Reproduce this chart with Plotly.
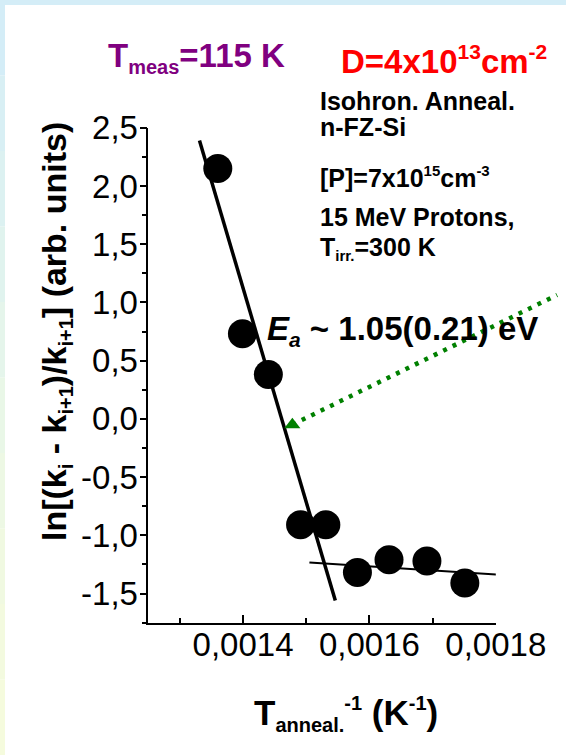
import plotly.graph_objects as go

# ---------------- data ----------------
x_data = [0.001360, 0.001399, 0.001440, 0.001491, 0.001531, 0.001581, 0.001631, 0.001691, 0.001751]
y_data = [2.15, 0.73, 0.38, -0.91, -0.91, -1.32, -1.21, -1.22, -1.41]

fit_steep_x = [0.001331, 0.001546]
fit_steep_y = [2.39, -1.56]
fit_flat_x = [0.001505, 0.00181]
fit_flat_y = [-1.234, -1.340]

arrow_tip = (0.001478, -0.05)
arrow_tail = (0.001897, 1.064)

x_tickvals = [0.0014, 0.0016, 0.0018]
x_ticktext = ["0,0014", "0,0016", "0,0018"]
y_tickvals = [-1.5, -1.0, -0.5, 0.0, 0.5, 1.0, 1.5, 2.0, 2.5]
y_ticktext = ["-1,5", "-1,0", "-0,5", "0,0", "0,5", "1,0", "1,5", "2,0", "2,5"]

X_RANGE = [0.00125, 0.0018]
Y_RANGE = [-1.75, 2.5]

# ---------------- layout geometry ----------------
W, H = 566, 755
X_DOM = [148.3 / W, 495.8 / W]
Y_DOM = [1 - 622.7 / H, 1 - 127.7 / H]
FONT = "Liberation Sans, Arial, sans-serif"


def d2p(x, y):
    px = X_DOM[0] + (x - X_RANGE[0]) / (X_RANGE[1] - X_RANGE[0]) * (X_DOM[1] - X_DOM[0])
    py = Y_DOM[0] + (y - Y_RANGE[0]) / (Y_RANGE[1] - Y_RANGE[0]) * (Y_DOM[1] - Y_DOM[0])
    return px, py


def sub(t, s):
    return f'<sub><span style="font-size:{s}px">{t}</span></sub>'


def sup(t, s):
    return f'<sup><span style="font-size:{s}px">{t}</span></sup>'


fig = go.Figure()

fig.add_trace(go.Scatter(x=fit_steep_x, y=fit_steep_y, mode="lines",
                         line=dict(color="black", width=3.5), hoverinfo="skip"))
fig.add_trace(go.Scatter(x=fit_flat_x, y=fit_flat_y, mode="lines",
                         line=dict(color="black", width=2), hoverinfo="skip"))
fig.add_trace(go.Scatter(x=x_data, y=y_data, mode="markers",
                         marker=dict(color="black", size=29), cliponaxis=False))
fig.add_trace(go.Scatter(x=[arrow_tip[0]], y=[arrow_tip[1]], mode="markers",
                         marker=dict(color="#008000", size=14, symbol="triangle-up"),
                         cliponaxis=False))

shapes = []
# frame decoration
shapes.append(dict(type="rect", xref="paper", yref="paper", x0=0, x1=1, y0=1 - 5 / H, y1=1,
                   fillcolor="#d4edf7", line=dict(width=0), layer="below"))
band_cols = ["#d4edf7", "#d8eff4", "#dcf1f1", "#e0f3ee", "#e5f5eb", "#e9f7e7",
             "#edf8e4", "#f0f9e1", "#f3fadf", "#f5fbdd"]
nb = len(band_cols)
for i, c in enumerate(band_cols):
    shapes.append(dict(type="rect", xref="paper", yref="paper", x0=0, x1=5 / W,
                       y0=1 - (i + 1) / nb, y1=1 - i / nb,
                       fillcolor=c, line=dict(width=0), layer="below"))
# green dotted arrow
p0 = d2p(*arrow_tip)
p1 = d2p(*arrow_tail)
shapes.append(dict(type="line", xref="paper", yref="paper", x0=p0[0], y0=p0[1], x1=p1[0], y1=p1[1],
                   line=dict(color="#008000", width=4.5, dash="4px,6.5px"), layer="above"))


def ann(text, xpx, ypx, size, color="black", xanchor="left", yanchor="middle", angle=0):
    return dict(text=text, x=xpx / W, y=1 - ypx / H, xref="paper", yref="paper",
                xanchor=xanchor, yanchor=yanchor, showarrow=False, textangle=angle,
                font=dict(family=FONT, size=size, color=color))


annotations = [
    ann("<b>T" + sub("meas", 20) + "=115 K</b>", 106, 58, 33, "#800080"),
    ann("<b>D=4x10" + sup("13", 21) + "cm" + sup("-2", 21) + "</b>", 339, 60, 33, "#ff0000"),
    ann("<b>Isohron. Anneal.</b>", 318, 101, 25),
    ann("<b>n-FZ-Si</b>", 318, 127, 25),
    ann("<b>[P]=7x10" + sup("15", 15) + "cm" + sup("-3", 15) + "</b>", 318, 177, 25),
    ann("<b>15 MeV Protons,</b>", 318, 217, 25),
    ann("<b>T" + sub("irr.", 15) + "=300 K</b>", 318, 248, 25),
    ann("<b><i>E</i>" + sub("<i>a</i>", 21) + " ~ 1.05(0.21) eV</b>", 265, 330, 33),
    ann("<b>T" + sub("anneal.", 20) + sup("-1", 20) + " (K" + sup("-1", 20) + ")</b>",
        346, 714, 35, xanchor="center"),
    ann("<b>ln[(k" + sub("i", 20) + " - k" + sub("i+1", 20) + ")/k" + sub("i+1", 20)
        + "] (arb. units)</b>", 56, 332, 34, xanchor="center", angle=-90),
]

fig.update_layout(
    width=W, height=H,
    margin=dict(l=0, r=0, t=0, b=0, pad=0, autoexpand=False),
    paper_bgcolor="white",
    plot_bgcolor="rgba(0,0,0,0)",
    showlegend=False,
    shapes=shapes,
    annotations=annotations,
    font=dict(family=FONT, color="black"),
    xaxis=dict(domain=X_DOM, range=X_RANGE, showgrid=False, zeroline=False, automargin=False,
               showline=True, linecolor="black", linewidth=1.5,
               ticks="inside", ticklen=8, tickwidth=1.5, tickcolor="black",
               tickmode="array", tickvals=x_tickvals, ticktext=x_ticktext,
               ticklabelstandoff=-8,
               tickfont=dict(family=FONT, size=33, color="black"),
               minor=dict(tickmode="linear", tick0=0.0013, dtick=0.0002, ticks="inside",
                          ticklen=5, tickwidth=1.5, tickcolor="black")),
    yaxis=dict(domain=Y_DOM, range=Y_RANGE, showgrid=False, zeroline=False, automargin=False,
               showline=True, linecolor="black", linewidth=1.5,
               ticks="outside", ticklen=7, tickwidth=1.5, tickcolor="black",
               tickmode="array", tickvals=y_tickvals, ticktext=y_ticktext,
               ticklabelstandoff=-5,
               tickfont=dict(family=FONT, size=33, color="black"),
               minor=dict(tickmode="linear", tick0=0.25, dtick=0.5, ticks="outside",
                          ticklen=5, tickwidth=1.5, tickcolor="black")),
)

fig.write_html("out.html",
               config=dict(displayModeBar=False),
               post_script="document.body.style.margin='0';document.body.style.overflow='hidden';")
